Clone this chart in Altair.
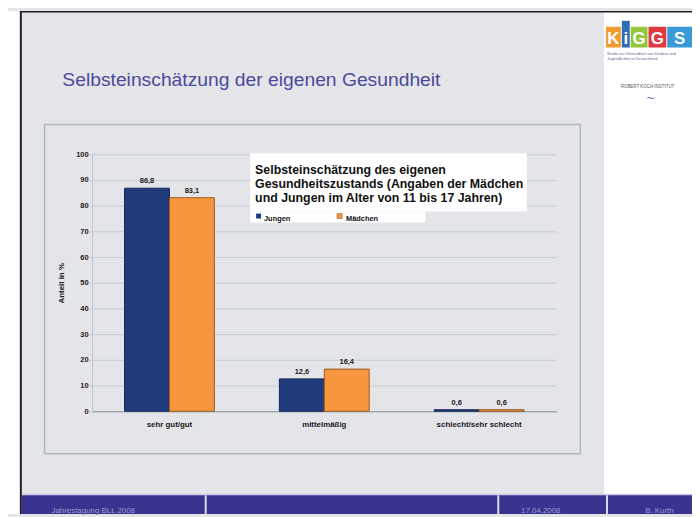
import altair as alt
import pandas as pd

# ---- data ----
categories = ["sehr gut/gut", "mittelmäßig", "schlecht/sehr schlecht"]
groups = ["Jungen", "Mädchen"]
jungen = [86.8, 12.6, 0.6]
maedchen = [83.1, 16.4, 0.6]
y_ticks = [0, 10, 20, 30, 40, 50, 60, 70, 80, 90, 100]

slide_title = "Selbsteinschätzung der eigenen Gesundheit"
box_title = ["Selbsteinschätzung des eigenen",
             "Gesundheitszustands (Angaben der Mädchen",
             "und Jungen im Alter von 11 bis 17 Jahren)"]
footer_texts = ["Jahrestagung BLL 2008", "17.04.2008", "B. Kurth"]

rows = []
for c, j, m in zip(categories, jungen, maedchen):
    for g, v in ((groups[0], j), (groups[1], m)):
        rows.append({"Kategorie": c, "Gruppe": g, "Anteil": v,
                     "Label": f"{v:.1f}".replace(".", ",")})
df = pd.DataFrame(rows)

# ---- layout ----
FONT = "Liberation Sans"
W, H = 470, 260
OX, OY = 93, 153  # page position of the plot origin
PAD = {"left": OX - 8, "top": OY - 8, "right": 692 - (OX - 8) - W,
       "bottom": 509 - (OY - 8) - H}
NAVY = "#1f3b7b"
ORANGE = "#f7963e"
SLIDE_BG = "#e3e5e8"
FOOT = "#3a3490"

one = alt.Data(values=[{"a": 1}])


def px(x):
    return x - OX


def py(y):
    return y - OY


def box(x1, y1, x2, y2, **kw):
    return alt.Chart(one).mark_rect(**kw).encode(
        x=alt.value(px(x1)), x2=alt.value(px(x2)),
        y=alt.value(py(y1)), y2=alt.value(py(y2)))


def label(text, x, y, **kw):
    kw.setdefault("font", FONT)
    return alt.Chart(one).mark_text(text=text, **kw).encode(
        x=alt.value(px(x)), y=alt.value(py(y)))


deco = [
    # page white left margin and right panel
    box(8, 8, 20, 517, color="white"),
    box(611, 8, 700, 497, color="white"),
    # slide border
    box(20, 8, 700, 9.5, color="#1e1e1e"),
    box(20, 8, 22, 517, color="#1e1e1e"),
    # footer bar
    box(22, 496.5, 700, 498, color="#c9c8ea"),
    box(22, 498, 700, 517, color=FOOT),
    box(207, 498, 209, 517, color="#dcdcf2"),
    box(503, 498, 505, 517, color="#dcdcf2"),
    box(613, 498, 615, 517, color="#dcdcf2"),
    label(footer_texts[0], 52, 514, fontSize=8, color="#9c9ad6", align="left"),
    label(footer_texts[1], 547, 514, fontSize=8, color="#9c9ad6", align="center"),
    label(footer_texts[2], 667, 514, fontSize=8, color="#9c9ad6", align="center"),
    # slide title
    label(slide_title, 63, 78, fontSize=19.5, color="#4b4a9c", align="left"),
    # chart frame
    box(45, 123, 587, 456, fill="transparent", stroke="#b4b8bd", strokeWidth=1.5),
    # logo
    box(613, 24, 628, 45, color="#f39a2e"),
    box(629, 18, 637, 45, color="#2e6cb4"),
    box(638, 24, 655, 45, color="#93c83e"),
    box(656, 24, 674, 45, color="#e2383f"),
    box(675, 24, 700, 45, color="#3a9ad9"),
    label("K", 620.5, 41, fontSize=17, fontWeight="bold", color="white", align="center", baseline="alphabetic"),
    label("i", 633, 41, fontSize=17, fontWeight="bold", color="white", align="center", baseline="alphabetic"),
    label("G", 646.5, 41, fontSize=17, fontWeight="bold", color="white", align="center", baseline="alphabetic"),
    label("G", 665, 41, fontSize=17, fontWeight="bold", color="white", align="center", baseline="alphabetic"),
    label("S", 687.5, 41, fontSize=17, fontWeight="bold", color="white", align="center", baseline="alphabetic"),
    label("Studie zur Gesundheit von Kindern und", 614, 52, fontSize=4, color="#5a6a9a", align="left"),
    label("Jugendlichen in Deutschland", 614, 57, fontSize=4, color="#5a6a9a", align="left"),
    label("ROBERT KOCH INSTITUT", 655, 85, fontSize=4.5, color="#555a66", align="center"),
    label("~", 658, 97, fontSize=14, color="#6a7aa8", align="center"),
    # legend / title box
    box(253, 152, 533, 211, color="white"),
    box(253, 211, 430, 222, color="white"),
    label(box_title[0], 258, 169, fontSize=12.5, fontWeight="bold", color="#111", align="left"),
    label(box_title[1], 258, 183, fontSize=12.5, fontWeight="bold", color="#111", align="left"),
    label(box_title[2], 258, 197, fontSize=12.5, fontWeight="bold", color="#111", align="left"),
    box(259, 213, 264, 218, color=NAVY),
    label(groups[0], 267, 219, fontSize=7.5, fontWeight="bold", color="#111", align="left"),
    box(341, 213, 346, 218, color=ORANGE, stroke="#9a5a20", strokeWidth=0.6),
    label(groups[1], 350, 219, fontSize=7.5, fontWeight="bold", color="#111", align="left"),
]

x_enc = alt.X("Kategorie:N", sort=categories,
              scale=alt.Scale(paddingInner=0.42, paddingOuter=0.21),
              axis=alt.Axis(title=None, labelAngle=0, labelFont=FONT, labelFontSize=8,
                            labelFontWeight="bold", labelColor="#1a1a1a", labelPadding=9,
                            ticks=False, domainColor="#8f959b", grid=False))
xo_enc = alt.XOffset("Gruppe:N", sort=groups, scale=alt.Scale(paddingInner=0, paddingOuter=0))
y_enc = alt.Y("Anteil:Q", scale=alt.Scale(domain=[0, 100], nice=False),
              axis=alt.Axis(values=y_ticks, tickCount=11, title="Anteil in %", titleFont=FONT,
                            titleFontSize=8, titleFontWeight="bold", titleColor="#1a1a1a",
                            titleX=-27, titleY=130, titleAngle=270,
                            labelFont=FONT, labelFontSize=7.5, labelFontWeight="bold",
                            labelColor="#1a1a1a", labelPadding=1, tickSize=3,
                            labelOverlap=False, labelFlush=False,
                            tickColor="#c3c7cc", domainColor="#c3c7cc",
                            gridColor="#c6cacf", gridWidth=1))

base = alt.Chart(df)
bars = base.mark_bar(strokeWidth=1).encode(
    x=x_enc, xOffset=xo_enc, y=y_enc,
    color=alt.Color("Gruppe:N", scale=alt.Scale(domain=groups, range=[NAVY, ORANGE]), legend=None),
    stroke=alt.Stroke("Gruppe:N", scale=alt.Scale(domain=groups, range=["#14285a", "#9a5a20"]), legend=None),
)
values = base.mark_text(font=FONT, fontSize=7.5, fontWeight="bold", color="#1a1a1a",
                        baseline="bottom", dy=-3).encode(
    x=x_enc, xOffset=xo_enc, y=y_enc, text="Label:N")

chart = alt.layer(*deco[:14], bars, values, *deco[14:]).properties(
    width=W, height=H, padding=PAD,
    autosize=alt.AutoSizeParams(type="none"),
    background=SLIDE_BG,
).configure_view(stroke=None)

chart.save("out.html", embed_options={"renderer": "svg", "actions": False})
